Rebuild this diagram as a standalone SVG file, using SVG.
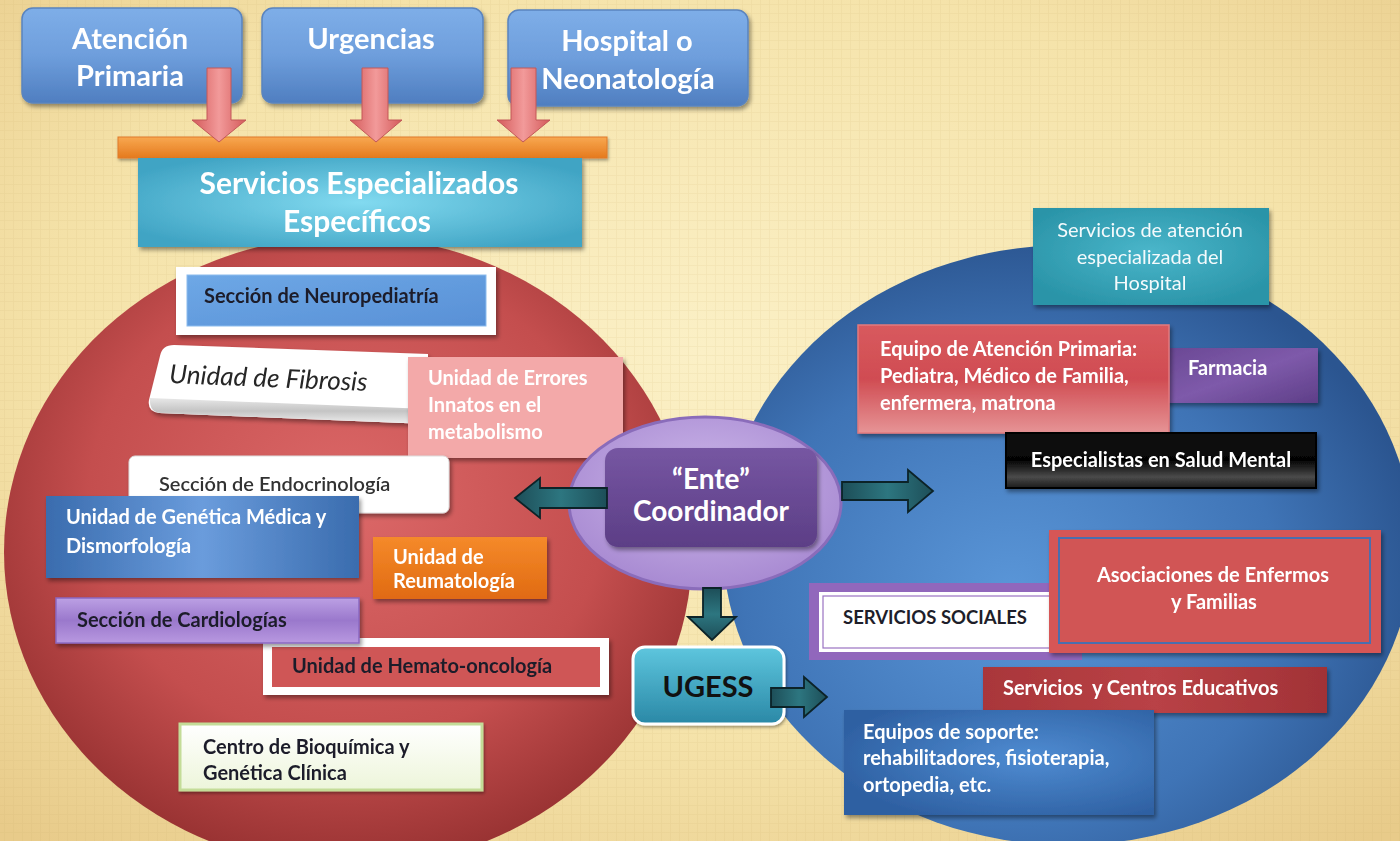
<svg xmlns="http://www.w3.org/2000/svg" width="1400" height="841" viewBox="0 0 1400 841">
<defs>
  <radialGradient id="bg" cx="50%" cy="42%" r="75%">
    <stop offset="0" stop-color="#FBF0C6"/>
    <stop offset="0.6" stop-color="#F5E3AA"/>
    <stop offset="1" stop-color="#E8CB8A"/>
  </radialGradient>
  <pattern id="tex" width="9" height="9" patternUnits="userSpaceOnUse">
    <path d="M0,4.5 H9 M4.5,0 V9" stroke="#C8A868" stroke-width="0.8" opacity="0.13"/>
  </pattern>
  <radialGradient id="redC" cx="50%" cy="42%" r="58%">
    <stop offset="0" stop-color="#DC6868"/>
    <stop offset="0.65" stop-color="#C44E4E"/>
    <stop offset="1" stop-color="#983232"/>
  </radialGradient>
  <radialGradient id="blueC" cx="42%" cy="58%" r="60%">
    <stop offset="0" stop-color="#5A96D8"/>
    <stop offset="0.65" stop-color="#3F74B6"/>
    <stop offset="1" stop-color="#2B5590"/>
  </radialGradient>
  <linearGradient id="topBox" x1="0" y1="0" x2="0" y2="1">
    <stop offset="0" stop-color="#7EAEE8"/>
    <stop offset="0.5" stop-color="#6E9EDC"/>
    <stop offset="1" stop-color="#4F7EC0"/>
  </linearGradient>
  <linearGradient id="redArrow" x1="0" y1="0" x2="1" y2="0">
    <stop offset="0" stop-color="#D45A5A"/>
    <stop offset="0.5" stop-color="#F29A9A"/>
    <stop offset="1" stop-color="#D45A5A"/>
  </linearGradient>
  <linearGradient id="orange" x1="0" y1="0" x2="0" y2="1">
    <stop offset="0" stop-color="#F8A850"/>
    <stop offset="1" stop-color="#E57A1E"/>
  </linearGradient>
  <radialGradient id="cyan" cx="50%" cy="50%" r="60%">
    <stop offset="0" stop-color="#82DAF0"/>
    <stop offset="1" stop-color="#40A4C4"/>
  </radialGradient>
  <linearGradient id="neuro" x1="0" y1="0" x2="1" y2="1">
    <stop offset="0" stop-color="#6EA8E6"/>
    <stop offset="1" stop-color="#5890D6"/>
  </linearGradient>
  <linearGradient id="gen" x1="0" y1="0" x2="1" y2="0">
    <stop offset="0" stop-color="#3A6CAE"/>
    <stop offset="0.5" stop-color="#6A9CDC"/>
    <stop offset="1" stop-color="#3A6CAE"/>
  </linearGradient>
  <linearGradient id="reuma" x1="0" y1="0" x2="0" y2="1">
    <stop offset="0" stop-color="#F58A2A"/>
    <stop offset="1" stop-color="#E06A12"/>
  </linearGradient>
  <linearGradient id="cardio" x1="0" y1="0" x2="0" y2="1">
    <stop offset="0" stop-color="#BCA0E4"/>
    <stop offset="0.5" stop-color="#9A78CC"/>
    <stop offset="1" stop-color="#B898E0"/>
  </linearGradient>
  <linearGradient id="bioq" x1="0" y1="0" x2="0" y2="1">
    <stop offset="0" stop-color="#FFFFFF"/>
    <stop offset="1" stop-color="#EDF5DA"/>
  </linearGradient>
  <linearGradient id="fibBand" x1="0" y1="0" x2="0" y2="1">
    <stop offset="0" stop-color="#E8E8E8"/>
    <stop offset="0.5" stop-color="#C4C4C4"/>
    <stop offset="1" stop-color="#EFEFEF"/>
  </linearGradient>
  <radialGradient id="enteOut" cx="50%" cy="40%" r="60%">
    <stop offset="0" stop-color="#CDB8EA"/>
    <stop offset="1" stop-color="#A88AD2"/>
  </radialGradient>
  <linearGradient id="enteIn" x1="0" y1="0" x2="0" y2="1">
    <stop offset="0" stop-color="#7656A2"/>
    <stop offset="1" stop-color="#5C3E86"/>
  </linearGradient>
  <linearGradient id="teal" x1="0" y1="0" x2="1" y2="0">
    <stop offset="0" stop-color="#1D4E58"/>
    <stop offset="0.5" stop-color="#2D7680"/>
    <stop offset="1" stop-color="#1D4E58"/>
  </linearGradient>
  <linearGradient id="tealV" x1="0" y1="0" x2="0" y2="1">
    <stop offset="0" stop-color="#1D4E58"/>
    <stop offset="0.5" stop-color="#2D7680"/>
    <stop offset="1" stop-color="#1D4E58"/>
  </linearGradient>
  <linearGradient id="ugess" x1="0" y1="0" x2="0" y2="1">
    <stop offset="0" stop-color="#5EC6DE"/>
    <stop offset="1" stop-color="#2A88A6"/>
  </linearGradient>
  <radialGradient id="hosp" cx="50%" cy="45%" r="60%">
    <stop offset="0" stop-color="#4AB6CA"/>
    <stop offset="1" stop-color="#2A94A8"/>
  </radialGradient>
  <linearGradient id="equipo" x1="0" y1="0" x2="0" y2="1">
    <stop offset="0" stop-color="#D85A5E"/>
    <stop offset="0.5" stop-color="#D04C52"/>
    <stop offset="1" stop-color="#E69496"/>
  </linearGradient>
  <linearGradient id="farm" x1="0" y1="0" x2="1" y2="1">
    <stop offset="0" stop-color="#6A4894"/>
    <stop offset="0.5" stop-color="#7E5AAA"/>
    <stop offset="1" stop-color="#5E3E88"/>
  </linearGradient>
  <linearGradient id="black" x1="0" y1="0" x2="0" y2="1">
    <stop offset="0" stop-color="#111111"/>
    <stop offset="0.5" stop-color="#050505"/>
    <stop offset="0.8" stop-color="#4A4A4A"/>
    <stop offset="1" stop-color="#1A1A1A"/>
  </linearGradient>
  <linearGradient id="educ" x1="0" y1="0" x2="1" y2="0">
    <stop offset="0" stop-color="#A9363A"/>
    <stop offset="0.5" stop-color="#B94246"/>
    <stop offset="1" stop-color="#A13236"/>
  </linearGradient>
  <radialGradient id="soporte" cx="60%" cy="45%" r="65%">
    <stop offset="0" stop-color="#4F8CD2"/>
    <stop offset="1" stop-color="#2E60A2"/>
  </radialGradient>
  <filter id="sh" x="-10%" y="-10%" width="125%" height="135%">
    <feDropShadow dx="2" dy="3" stdDeviation="2" flood-color="#000" flood-opacity="0.4"/>
  </filter>
  <filter id="shs" x="-10%" y="-10%" width="125%" height="135%">
    <feDropShadow dx="1" dy="2" stdDeviation="1.5" flood-color="#000" flood-opacity="0.35"/>
  </filter>
</defs>
<style>
  text { font-family: Lato, "Liberation Sans", sans-serif; }
  .wb { fill: #FFFFFF; font-weight: bold; }
  .db { fill: #1E1E2A; font-weight: bold; }
  .big { font-size: 29px; }
  .sm { font-size: 20px; }
  .mid { text-anchor: middle; }
  .tarrow { stroke: #0C2328; stroke-width: 1.8; stroke-linejoin: miter; }
  .rarrow { fill: url(#redArrow); stroke: #C25858; stroke-width: 1; }
</style>

<rect width="1400" height="841" fill="url(#bg)"/>
<rect width="1400" height="841" fill="url(#tex)"/>

<g id="circulo-rojo">
  <ellipse cx="348" cy="552" rx="344" ry="316" fill="url(#redC)"/>
</g>
<g id="circulo-azul">
  <ellipse cx="1068" cy="545" rx="345" ry="300" fill="url(#blueC)"/>
</g>

<g id="atencion-primaria" filter="url(#sh)">
  <rect x="22" y="8" width="220" height="95" rx="11" fill="url(#topBox)" stroke="#5A84BE" stroke-width="1.5"/>
  <text class="wb big mid" x="130" y="49">Atención</text>
  <text class="wb big mid" x="130" y="86">Primaria</text>
</g>
<g id="urgencias" filter="url(#sh)">
  <rect x="262" y="8" width="221" height="95" rx="11" fill="url(#topBox)" stroke="#5A84BE" stroke-width="1.5"/>
  <text class="wb big mid" x="371" y="49">Urgencias</text>
</g>
<g id="hospital" filter="url(#sh)">
  <rect x="508" y="10" width="240" height="96" rx="11" fill="url(#topBox)" stroke="#5A84BE" stroke-width="1.5"/>
  <text class="wb big mid" x="627" y="51">Hospital o</text>
  <text class="wb big mid" x="628" y="89">Neonatología</text>
</g>

<g id="barra-naranja" filter="url(#shs)">
  <rect x="118" y="137" width="489" height="21" fill="url(#orange)" stroke="#E07A2A" stroke-width="1"/>
</g>

<g id="servicios-especializados" filter="url(#sh)">
  <rect x="138" y="158" width="444" height="89" fill="url(#cyan)"/>
  <text class="wb mid" x="359" y="194" style="font-size:30px">Servicios Especializados</text>
  <text class="wb mid" x="357" y="232" style="font-size:30px">Específicos</text>
</g>

<g id="neuropediatria" filter="url(#sh)">
  <rect x="176" y="267" width="320" height="68" fill="#FFFFFF"/>
  <rect x="187" y="275" width="299" height="51" fill="url(#neuro)" stroke="#8CBCEE" stroke-width="1"/>
  <text class="db sm" x="204" y="303">Sección de Neuropediatría</text>
</g>

<g id="fibrosis" filter="url(#sh)">
  <path d="M174,345 L428,354 L428,424 L160,413 Q147,412 149,400 L160,356 Q162,345 174,345 Z" fill="#FFFFFF"/>
  <path d="M150,398 L428,409 L428,424 L160,413 Q149,412 150,398 Z" fill="url(#fibBand)"/>
  <text x="169" y="383" transform="rotate(2.3 169 383)" style="font-size:26px;font-style:italic;fill:#262626">Unidad de Fibrosis</text>
</g>

<g id="errores-innatos" filter="url(#sh)">
  <rect x="408" y="357" width="215" height="101" fill="#F3A9A9"/>
  <text class="wb sm" x="428" y="385">Unidad de Errores</text>
  <text class="wb sm" x="428" y="412">Innatos en el</text>
  <text class="wb sm" x="428" y="439">metabolismo</text>
</g>

<g id="endocrinologia" filter="url(#sh)">
  <rect x="129" y="456" width="320" height="57" rx="6" fill="#FFFFFF" stroke="#DDDDDD" stroke-width="1"/>
  <text x="159" y="491" style="font-size:20px;fill:#333;font-weight:600">Sección de Endocrinología</text>
</g>

<g id="genetica" filter="url(#sh)">
  <rect x="46" y="496" width="313" height="82" fill="url(#gen)"/>
  <text class="wb sm" x="66" y="524">Unidad de Genética Médica y</text>
  <text class="wb sm" x="66" y="553">Dismorfología</text>
</g>

<g id="reumatologia" filter="url(#sh)">
  <rect x="373" y="537" width="174" height="62" fill="url(#reuma)"/>
  <text class="wb sm" x="393" y="564">Unidad de</text>
  <text class="wb sm" x="393" y="588">Reumatología</text>
</g>

<g id="hemato" filter="url(#sh)">
  <rect x="263" y="638" width="346" height="57" fill="#FFFFFF"/>
  <rect x="272" y="647" width="328" height="40" fill="#CF5656"/>
  <text class="db sm" x="292" y="673">Unidad de Hemato-oncología</text>
</g>

<g id="cardiologias" filter="url(#sh)">
  <rect x="56" y="598" width="303" height="45" fill="url(#cardio)" stroke="#8A68C2" stroke-width="1.5"/>
  <text class="db sm" x="77" y="627">Sección de Cardiologías</text>
</g>

<g id="bioquimica" filter="url(#shs)">
  <rect x="180" y="724" width="302" height="66" fill="url(#bioq)" stroke="#C4DC98" stroke-width="3"/>
  <text class="db sm" x="203" y="754">Centro de Bioquímica y</text>
  <text class="db sm" x="203" y="780">Genética Clínica</text>
</g>

<g id="servicios-hospital" filter="url(#sh)">
  <rect x="1033" y="208" width="236" height="97" fill="url(#hosp)"/>
  <text class="mid" x="1150" y="237" style="font-size:20px;fill:#F4FAFC">Servicios de atención</text>
  <text class="mid" x="1150" y="264" style="font-size:20px;fill:#F4FAFC">especializada del</text>
  <text class="mid" x="1150" y="290" style="font-size:20px;fill:#F4FAFC">Hospital</text>
</g>

<g id="farmacia" filter="url(#sh)">
  <rect x="1165" y="348" width="153" height="55" fill="url(#farm)"/>
  <text class="wb sm" x="1188" y="375">Farmacia</text>
</g>

<g id="equipo-ap" filter="url(#sh)">
  <rect x="858" y="325" width="311" height="108" fill="url(#equipo)" stroke="#E27A7E" stroke-width="1.5"/>
  <text class="wb sm" x="880" y="356">Equipo de Atención Primaria:</text>
  <text class="wb sm" x="880" y="383">Pediatra, Médico de Familia,</text>
  <text class="wb sm" x="880" y="410">enfermera, matrona</text>
</g>

<g id="salud-mental" filter="url(#sh)">
  <rect x="1006" y="433" width="310" height="55" fill="url(#black)" stroke="#000" stroke-width="2"/>
  <text class="wb sm mid" x="1161" y="467">Especialistas en Salud Mental</text>
</g>

<g id="servicios-sociales">
  <rect x="809" y="583" width="273" height="77" fill="#9167BC"/>
  <rect x="819" y="592" width="235" height="60" fill="#FFFFFF"/>
  <rect x="823" y="596" width="227" height="52" fill="none" stroke="#9A72C2" stroke-width="1.2"/>
  <text class="db" x="843" y="624" style="font-size:18.5px">SERVICIOS SOCIALES</text>
</g>

<g id="asociaciones" filter="url(#sh)">
  <rect x="1049" y="530" width="332" height="123" fill="#D65656"/>
  <rect x="1059" y="538" width="311" height="105" fill="#D15454" stroke="#4C6EAE" stroke-width="2"/>
  <text class="wb sm mid" x="1213" y="582">Asociaciones de Enfermos</text>
  <text class="wb sm mid" x="1214" y="609">y Familias</text>
</g>

<g id="centros-educativos" filter="url(#sh)">
  <rect x="983" y="667" width="344" height="46" fill="url(#educ)"/>
  <text class="wb sm" x="1003" y="695" xml:space="preserve">Servicios  y Centros Educativos</text>
</g>

<g id="equipos-soporte" filter="url(#sh)">
  <rect x="844" y="710" width="310" height="105" fill="url(#soporte)"/>
  <text class="wb sm" x="863" y="739">Equipos de soporte:</text>
  <text class="wb sm" x="863" y="765">rehabilitadores, fisioterapia,</text>
  <text class="wb sm" x="863" y="792">ortopedia, etc.</text>
</g>

<g id="ente-coordinador">
  <ellipse cx="705" cy="503" rx="136" ry="86" fill="url(#enteOut)" stroke="#8A6CBA" stroke-width="3"/>
  <rect x="605" y="448" width="212" height="99" rx="13" fill="url(#enteIn)" filter="url(#sh)"/>
  <text class="wb mid" x="711" y="489" style="font-size:28px">“Ente”</text>
  <text class="wb mid" x="711" y="521" style="font-size:28px">Coordinador</text>
</g>

<g id="ugess">
  <rect x="633" y="647" width="151" height="77" rx="12" fill="url(#ugess)" stroke="#FFFFFF" stroke-width="3" filter="url(#shs)"/>
  <text class="mid" x="708" y="697" style="font-size:29px;font-weight:bold;fill:#111">UGESS</text>
</g>

<g id="conectores">
  <path class="rarrow" d="M207,68 L231,68 L231,120 L246,120 L219,142 L192,120 L207,120 Z"/>
  <path class="rarrow" d="M362,68 L388,68 L388,120 L402,120 L376,142 L350,120 L362,120 Z"/>
  <path class="rarrow" d="M511,68 L536,68 L536,120 L550,120 L523,142 L497,120 L511,120 Z"/>
  <path class="tarrow" fill="url(#teal)" d="M515,498 L540,478 L540,488 L607,488 L607,508 L540,508 L540,518 Z"/>
  <path class="tarrow" fill="url(#teal)" d="M842,482 L908,482 L908,470 L933,491 L908,512 L908,500 L842,500 Z"/>
  <path class="tarrow" fill="url(#tealV)" d="M703,588 L721,588 L721,617 L736,617 L712,640 L688,617 L703,617 Z"/>
  <path class="tarrow" fill="url(#teal)" d="M771,688 L804,688 L804,677 L827,697 L804,717 L804,707 L771,707 Z"/>
</g>
</svg>
